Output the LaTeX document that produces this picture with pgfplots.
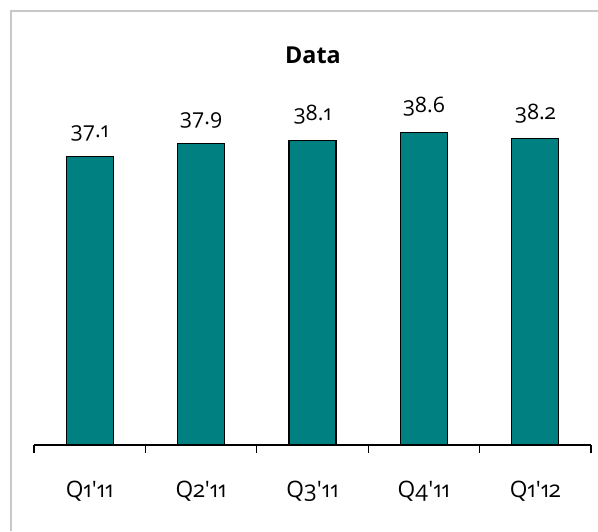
\documentclass[border=0pt]{standalone}
\usepackage{fontspec}
\setmainfont{Open Sans}[Numbers=OldStyle]
\usepackage{pgfplots}
\pgfplotsset{compat=1.18}
\definecolor{barteal}{RGB}{0,128,128}
\definecolor{framegray}{RGB}{200,200,200}
\begin{document}
\begin{tikzpicture}[x=0.75pt,y=0.75pt]
\begin{axis}[
  scale only axis, width=417.75pt, height=258.75pt,
  xmin=-0.5, xmax=4.5, ymin=19.38, ymax=40.58,
  axis y line=none, axis x line=bottom,
  axis line style={-, black, line width=0.8pt},
  ybar, bar width=35.25pt,
  xtick={0,...,4},
  xticklabels={Q1\textquotesingle 11,Q2\textquotesingle 11,Q3\textquotesingle 11,Q4\textquotesingle 11,Q1\textquotesingle 12},
  major tick length=0pt,
  xticklabel style={font=\fontsize{17}{20}\selectfont, anchor=base, yshift=-39pt},
  extra x ticks={-0.5,0.5,...,4.5},
  extra x tick labels={},
  extra x tick style={major tick length=6pt, tick align=outside, tick style={black, line width=0.8pt}},
  /pgf/number format/assume math mode=true,
  nodes near coords,
  nodes near coords style={font=\fontsize{16}{18}\selectfont, yshift=8pt,
    /pgf/number format/.cd, fixed, fixed zerofill, precision=1, assume math mode=true},
  clip=false,
]
\addplot[fill=barteal, draw=black, line width=0.9pt] coordinates {(0,37.1) (1,37.9) (2,38.1) (3,38.6) (4,38.2)};
\coordinate (O) at (rel axis cs:0,0);
\end{axis}
\pgfresetboundingbox
\begin{scope}[shift={(O)}]
\useasboundingbox (-34,-86) rectangle (564,445);
\draw[framegray, line width=1.5pt] (-23,-86) -- (-23,434) -- (564,434);
\node[font=\bfseries\fontsize{17.5}{20}\selectfont] at (279,390) {Data};
\end{scope}
\end{tikzpicture}
\end{document}
